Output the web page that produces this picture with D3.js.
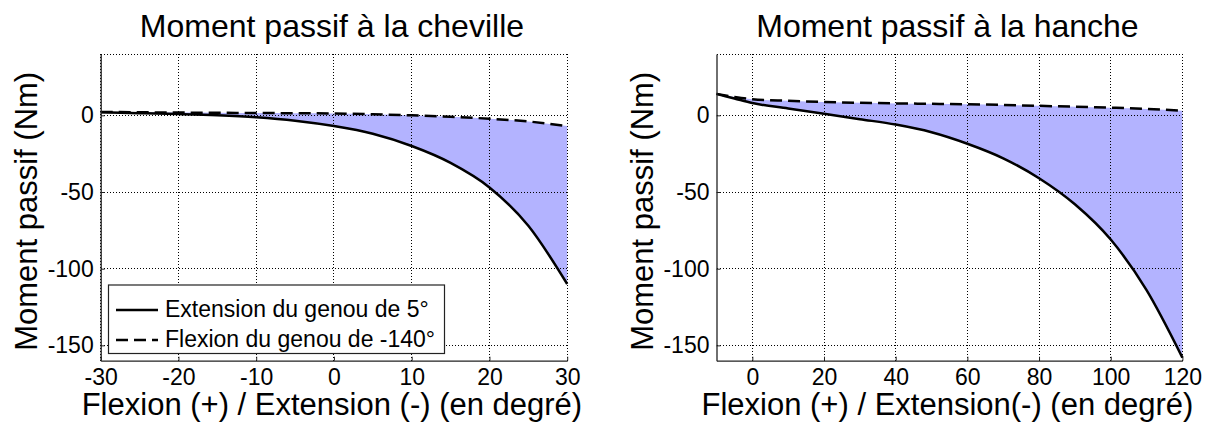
<!DOCTYPE html>
<html>
<head>
<meta charset="utf-8">
<script src="https://cdn.jsdelivr.net/npm/d3@7"></script>
<style>
  html, body { margin: 0; padding: 0; background: #fff; }
  svg { display: block; }
  text { font-family: "Liberation Sans", Arial, sans-serif; fill: #000; }
</style>
</head>
<body>
<svg id="chart" width="1205" height="423"></svg>
<script>
// ---- Data ----
const ankleAngles = [-30, -25, -20, -15, -10, -5, 0, 5, 10, 15, 20, 25, 30];
const ankleKneeExt = [2, 1.4, 0.8, 0, -1.3, -3.5, -7, -12, -20, -31, -47, -72, -110];
const ankleKneeFlex = [2.2, 2, 1.8, 1.7, 1.5, 1.4, 1.2, 0.7, 0, -1, -2.2, -4, -7];

const hipAngles = [-10, -5, 0, 10, 20, 30, 40, 50, 60, 70, 80, 90, 100, 110, 120];
const hipKneeExt = [14, 11, 8, 4.5, 1, -2.5, -6, -11, -18.5, -28, -41, -58, -81, -114, -158];
const hipKneeFlex = [14, 12, 10.5, 9.5, 8.7, 8.2, 7.8, 7.5, 7.2, 6.8, 6.2, 5.6, 5, 4.2, 3];

const ankleXTicks = [-30, -20, -10, 0, 10, 20, 30];
const hipXTicks = [0, 20, 40, 60, 80, 100, 120];
const yTicks = [-150, -100, -50, 0];

const legendLabels = ["Extension du genou de 5°", "Flexion du genou de -140°"];
const titles = ["Moment passif à la cheville", "Moment passif à la hanche"];
const xLabels = ["Flexion (+) / Extension (-) (en degré)", "Flexion (+) / Extension(-) (en degré)"];
const yLabel = "Moment passif (Nm)";

// ---- Layout ----
const svg = d3.select("#chart");
const plotTop = 54, plotBottom = 360.7;
const fillColor = "#b3b3ff";

function panel(opts) {
  const x = d3.scaleLinear().domain(opts.xDomain).range([opts.left, opts.right]);
  const y = d3.scaleLinear().domain([-160, 40]).range([plotBottom, plotTop]);
  const g = svg.append("g");
  const pts = opts.xs.map((v, i) => ({ x: v, a: opts.ext[i], b: opts.flex[i] }));

  // fill between curves
  g.append("path")
    .datum(pts)
    .attr("fill", fillColor)
    .attr("stroke", "none")
    .attr("d", d3.area().curve(d3.curveMonotoneX)
      .x(d => x(d.x)).y0(d => y(d.a)).y1(d => y(d.b)));

  // grid (dotted)
  const grid = g.append("g").attr("stroke", "#000").attr("stroke-width", 1)
    .attr("stroke-dasharray", "1,2").attr("shape-rendering", "crispEdges");
  opts.xTicks.forEach(t => {
    grid.append("line").attr("x1", x(t)).attr("x2", x(t)).attr("y1", plotTop).attr("y2", plotBottom);
  });
  grid.append("line").attr("x1", x(opts.xDomain[1])).attr("x2", x(opts.xDomain[1])).attr("y1", plotTop).attr("y2", plotBottom);
  yTicks.forEach(t => {
    grid.append("line").attr("x1", opts.left).attr("x2", opts.right).attr("y1", y(t)).attr("y2", y(t));
  });
  grid.append("line").attr("x1", opts.left).attr("x2", opts.right).attr("y1", plotTop).attr("y2", plotTop);

  // curves
  const line = (key) => d3.line().curve(d3.curveMonotoneX).x(d => x(d.x)).y(d => y(d[key]));
  g.append("path").datum(pts).attr("fill", "none").attr("stroke", "#000")
    .attr("stroke-width", 2.5).attr("stroke-dasharray", "12,6").attr("d", line("b"));
  g.append("path").datum(pts).attr("fill", "none").attr("stroke", "#000")
    .attr("stroke-width", 2.5).attr("d", line("a"));

  // axes
  const xAxis = g.append("g").attr("transform", `translate(0,${plotBottom})`)
    .call(d3.axisBottom(x).tickValues(opts.xTicks).tickSize(-4).tickSizeOuter(0).tickPadding(8)
      .tickFormat(d3.format("d")));
  const yAxis = g.append("g").attr("transform", `translate(${opts.left},0)`)
    .call(d3.axisLeft(y).tickValues(yTicks).tickSize(-4).tickSizeOuter(0).tickPadding(7)
      .tickFormat(d3.format("d")));
  [xAxis, yAxis].forEach(a => {
    a.selectAll("path.domain").attr("stroke", "#222").attr("stroke-width", 1.3);
    a.selectAll(".tick line").attr("stroke", "#222");
    a.selectAll("text").style("font-size", "23px").style("font-family", "'Liberation Sans', Arial, sans-serif");
  });
  xAxis.selectAll("text").text(d => d < 0 ? "-" + Math.abs(d) : d);
  yAxis.selectAll("text").text(d => d < 0 ? "-" + Math.abs(d) : d);

  // title
  g.append("text").attr("x", (opts.left + opts.right) / 2 - 2).attr("y", 37)
    .attr("text-anchor", "middle").style("font-size", "32px").text(opts.title);
  // x label
  g.append("text").attr("x", (opts.left + opts.right) / 2 - 2).attr("y", 415)
    .attr("text-anchor", "middle").style("font-size", "31px").text(opts.xLabel);
  // y label
  g.append("text").attr("transform", `translate(${opts.left - 64},${(plotTop + plotBottom) / 2 + 4}) rotate(-90)`)
    .attr("text-anchor", "middle").style("font-size", "31px").text(yLabel);

  return { x, y, g };
}

panel({
  xDomain: [-30, 30], left: 100.7, right: 567.2,
  xs: ankleAngles, ext: ankleKneeExt, flex: ankleKneeFlex,
  xTicks: ankleXTicks, title: titles[0], xLabel: xLabels[0]
});
panel({
  xDomain: [-10, 120], left: 716.5, right: 1182.4,
  xs: hipAngles, ext: hipKneeExt, flex: hipKneeFlex,
  xTicks: hipXTicks, title: titles[1], xLabel: xLabels[1]
});

// legend in first panel
const lg = svg.append("g");
lg.append("rect").attr("x", 108.5).attr("y", 285).attr("width", 336).attr("height", 68.5)
  .attr("fill", "#fff").attr("stroke", "#222").attr("stroke-width", 1.2);
const rows = [{ dash: null, y: 310 }, { dash: "12,6", y: 340 }];
rows.forEach((r, i) => {
  const l = lg.append("line").attr("x1", 116).attr("x2", 158).attr("y1", r.y).attr("y2", r.y)
    .attr("stroke", "#000").attr("stroke-width", 2.5);
  if (r.dash) l.attr("stroke-dasharray", r.dash);
  lg.append("text").attr("x", 165).attr("y", r.y + 7).style("font-size", "23px").text(legendLabels[i]);
});
</script>
</body>
</html>
